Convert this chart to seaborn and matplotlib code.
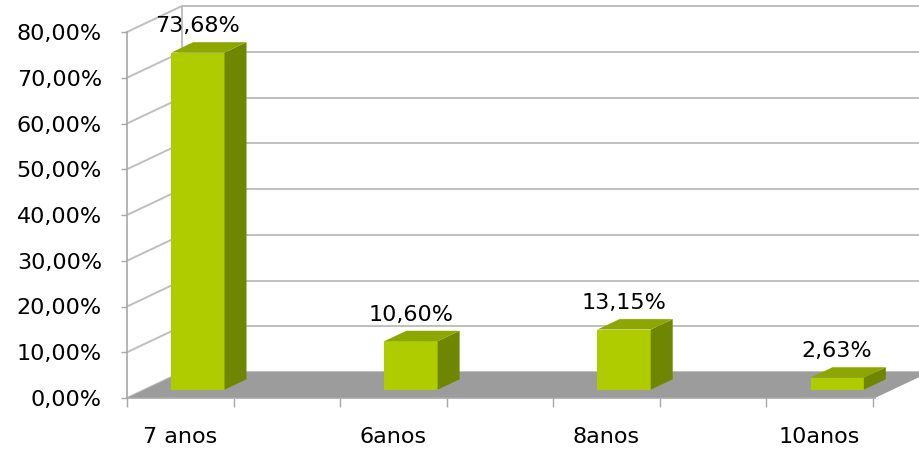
import matplotlib
matplotlib.use("Agg")
import matplotlib.pyplot as plt
from matplotlib.patches import Polygon
import numpy as np
import seaborn as sns

# Data
categories = ["7 anos", "6anos", "8anos", "10anos"]
percentages = [73.68, 10.60, 13.15, 2.63]
y_ticks = [0, 10, 20, 30, 40, 50, 60, 70, 80]

sns.set_style("white")
plt.rcParams["font.family"] = ["DejaVu Sans"]

FRONT = "#afcc00"
SIDE = "#6f8700"
TOP = "#8ea600"
FLOOR = "#9c9c9c"
GRID = "#bfbfbf"
AXIS = "#a8a8a8"
FS = 16

fig = plt.figure(figsize=(9.2, 4.55), dpi=100)
fig.patch.set_facecolor("white")
ax = fig.add_axes([127 / 920, 57 / 455, 748 / 920, 366 / 455])
ax.set_facecolor("none")

# Oblique 3D box: depth offset in category / percent units
X0, X1 = -0.25, 3.26
DX, DY = 0.258, 5.68
D0, D1 = 0.32, 0.72  # depth fraction of the bar front and back faces

# Back wall and side wall gridlines
for v in y_ticks:
    ax.plot([X0 + DX, X1 + DX], [v + DY, v + DY], color=GRID, lw=1.4,
            clip_on=False, zorder=0)
    ax.plot([X0, X0 + DX], [v, v + DY], color=GRID, lw=1.4,
            clip_on=False, zorder=0)
ax.plot([X0 + DX, X0 + DX], [DY, y_ticks[-1] + DY], color=GRID, lw=1.4,
        clip_on=False, zorder=0)

# Floor
ax.add_patch(Polygon([(X0, 0), (X1, 0), (X1 + DX, DY), (X0 + DX, DY)],
                     closed=True, fc=FLOOR, ec="none", clip_on=False, zorder=1))

# Front faces of the bars
sns.barplot(x=categories, y=percentages, width=0.25, color=FRONT,
            saturation=1, linewidth=0, ax=ax, zorder=3)

ddx = (D1 - D0) * DX
ddy = (D1 - D0) * DY
for bar, v in zip(ax.containers[0], percentages):
    x = bar.get_x() + D0 * DX
    y = D0 * DY
    bar.set_x(x)
    bar.set_y(y)
    bar.set_clip_on(False)
    w = bar.get_width()
    h = bar.get_height()
    side = Polygon([(x + w, y), (x + w + ddx, y + ddy),
                    (x + w + ddx, y + h + ddy), (x + w, y + h)],
                   closed=True, fc=SIDE, ec="none", clip_on=False, zorder=3)
    top = Polygon([(x, y + h), (x + w, y + h),
                   (x + w + ddx, y + h + ddy), (x + ddx, y + h + ddy)],
                  closed=True, fc=TOP, ec="none", clip_on=False, zorder=3)
    ax.add_patch(side)
    ax.add_patch(top)
    ax.annotate(f"{v:.2f}%".replace(".", ","), (x + w / 2, y + h),
                xytext=(0, 19), textcoords="offset points",
                ha="center", va="center", fontsize=FS, color="black",
                annotation_clip=False, zorder=5)

ax.set_xlim(X0, X1)
ax.set_ylim(0, 80)
ax.set_xlabel("")
ax.set_ylabel("")

ax.set_yticks(y_ticks, [f"{v:.2f}%".replace(".", ",") for v in y_ticks])
ax.set_xticks(range(len(categories)), categories)
ax.set_xticks(np.arange(X0, 3.3, 0.5), minor=True)

ax.tick_params(axis="y", left=True, length=4.3, width=1, color=AXIS,
               pad=13.7, labelsize=FS, labelcolor="black")
ax.tick_params(axis="x", which="major", bottom=True, length=0,
               pad=21, labelsize=FS, labelcolor="black")
ax.tick_params(axis="x", which="minor", bottom=True, length=6.5,
               width=1, color=AXIS)

for side_name in ("top", "right"):
    ax.spines[side_name].set_visible(False)
for side_name in ("left", "bottom"):
    ax.spines[side_name].set_color(AXIS)
    ax.spines[side_name].set_linewidth(1.2)
ax.spines["bottom"].set_zorder(2)

fig.savefig("out.png", dpi=100, facecolor="white")
